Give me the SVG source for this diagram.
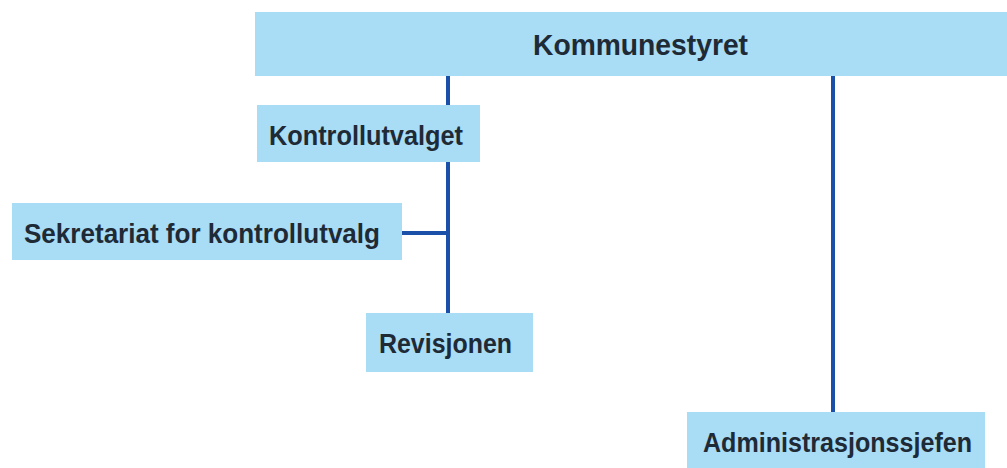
<svg xmlns="http://www.w3.org/2000/svg" width="1007" height="468" viewBox="0 0 1007 468">
<style>
.box{fill:#a9dcf5}
.lbl{font-family:"Liberation Sans",Arial,sans-serif;font-weight:bold;font-size:27px;fill:#1e2a35}
.big{font-size:30px}
.ln{stroke:#1a50a8;stroke-width:4;fill:none}
</style>
<rect width="1007" height="468" fill="#ffffff"/>
<g id="connectors">
<line class="ln" x1="448" y1="76" x2="448" y2="105"/>
<line class="ln" x1="448" y1="162" x2="448" y2="313"/>
<line class="ln" x1="402" y1="233" x2="448" y2="233"/>
<line class="ln" x1="833" y1="76" x2="833" y2="412"/>
</g>
<g id="kommunestyret">
<rect class="box" x="255" y="12" width="752" height="64"/>
<text class="lbl big" x="533" y="55" textLength="215" lengthAdjust="spacingAndGlyphs">Kommunestyret</text>
</g>
<g id="kontrollutvalget">
<rect class="box" x="257" y="105" width="223" height="57"/>
<text class="lbl" x="269" y="145" textLength="194" lengthAdjust="spacingAndGlyphs">Kontrollutvalget</text>
</g>
<g id="sekretariat">
<rect class="box" x="12" y="203" width="390" height="57"/>
<text class="lbl" x="24" y="243" textLength="356" lengthAdjust="spacingAndGlyphs">Sekretariat for kontrollutvalg</text>
</g>
<g id="revisjonen">
<rect class="box" x="366" y="313" width="167" height="59"/>
<text class="lbl" x="379" y="353" textLength="133" lengthAdjust="spacingAndGlyphs">Revisjonen</text>
</g>
<g id="administrasjonssjefen">
<rect class="box" x="687" y="412" width="298" height="56"/>
<text class="lbl" x="703" y="452" textLength="269" lengthAdjust="spacingAndGlyphs">Administrasjonssjefen</text>
</g>
</svg>
